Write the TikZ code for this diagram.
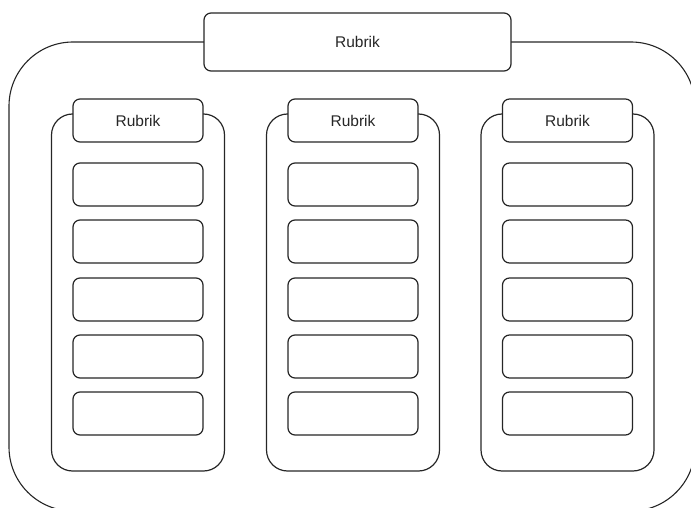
\documentclass[tikz,border=0pt]{standalone}
\usepackage{fontspec}
\setmainfont{Liberation Sans}
\begin{document}
\begin{tikzpicture}[x=1pt,y=-1pt,
  frame/.style={draw=black!85,line width=1.1pt,rounded corners=64pt},
  colbody/.style={draw=black!85,line width=1.2pt,rounded corners=21pt},
  hbox/.style={draw=black!85,fill=white,line width=1.2pt,rounded corners=7pt},
  item/.style={draw=black!85,fill=white,line width=1.2pt,rounded corners=7pt},
  lbl/.style={font=\fontsize{15.5}{18}\selectfont,text=black!85}]
\useasboundingbox (0,0) rectangle (691,508);
\begin{scope}
\clip (0,0) rectangle (691,508);
\draw[frame] (9,42) rectangle (695,511);
\end{scope}
\draw[hbox] (204,13) rectangle (511,71);
\node[lbl] (top) at (357.5,42) {Rubrik};
\foreach \cx/\n in {138/a,353/b,567.5/c}{
  \draw[colbody] (\cx-86.5,114) rectangle (\cx+86.5,471);
  \draw[hbox] (\cx-65,99) rectangle (\cx+65,142);
  \node[lbl] (h\n) at (\cx,120.5) {Rubrik};
  \foreach \y [count=\i] in {163,220,278,335,392}{
    \draw[item] (\cx-65,\y) rectangle (\cx+65,\y+43);
  }
}
\end{tikzpicture}
\end{document}
